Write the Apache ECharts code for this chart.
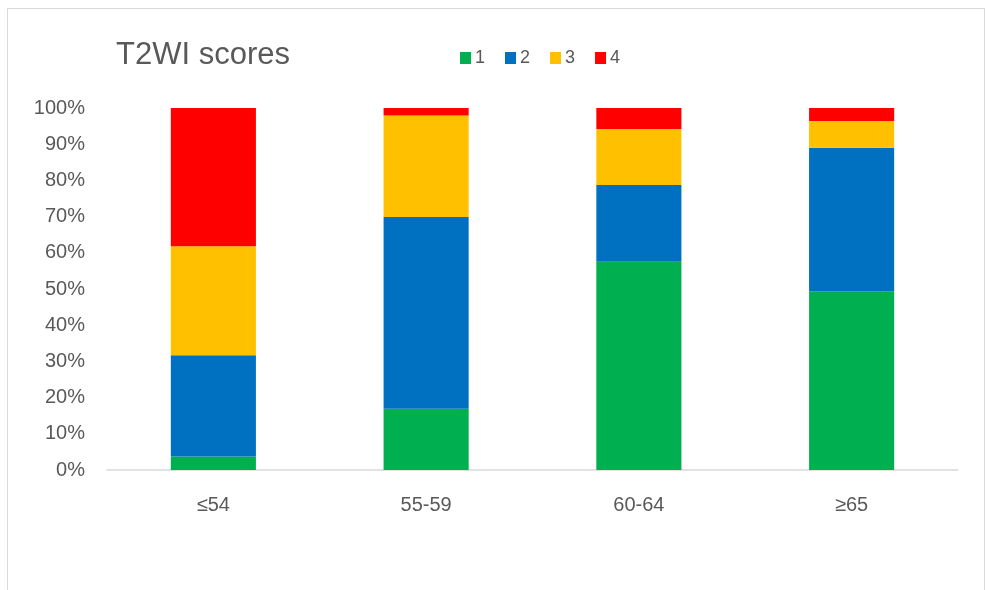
<!DOCTYPE html>
<html>
<head>
<meta charset="utf-8">
<script src="https://cdn.jsdelivr.net/npm/echarts@6/dist/echarts.min.js"></script>
<style>html,body{margin:0;padding:0;background:#fff}#c{width:987px;height:590px}</style>
</head>
<body>
<div id="c"></div>
<script>
var categories = ['≤54', '55-59', '60-64', '≥65'];
var seriesNames = ['1', '2', '3', '4'];
var score1 = [3.7, 16.9, 57.5, 49.4];
var score2 = [28.0, 53.0, 21.2, 39.6];
var score3 = [30.1, 28.0, 15.5, 7.4];
var score4 = [38.2, 2.1, 5.8, 3.6];
var yTicks = [0, 10, 20, 30, 40, 50, 60, 70, 80, 90, 100];
var colors = ['#00B050', '#0070C0', '#FFC000', '#FF0000'];
var seriesData = [score1, score2, score3, score4];

var font = 'Liberation Sans';
var chart = echarts.init(document.getElementById('c'));
chart.setOption({
  animation: false,
  textStyle: {fontFamily: font},
  graphic: [{
    type: 'rect', shape: {x: 7.5, y: 8.5, width: 977, height: 620},
    style: {fill: 'none', stroke: '#D9D9D9', lineWidth: 1}, silent: true
  }],
  title: {
    text: 'T2WI scores', left: 111, top: 35,
    textStyle: {fontFamily: font, fontSize: 31, fontWeight: 'normal', color: '#595959'}
  },
  legend: {
    left: 455, top: 44, itemWidth: 11, itemHeight: 12, itemGap: 20,
    icon: 'rect',
    textStyle: {fontFamily: font, fontSize: 18, color: '#595959', padding: [0, 0, 0, -1]},
    data: seriesNames
  },
  grid: {left: 107, right: 29, top: 108, bottom: 120, containLabel: false},
  xAxis: {
    type: 'category', data: categories,
    axisLine: {lineStyle: {color: '#D9D9D9', width: 1.5}},
    axisTick: {show: false},
    axisLabel: {fontFamily: font, fontSize: 20, color: '#595959', margin: 25}
  },
  yAxis: {
    type: 'value', min: 0, max: 100, interval: 10,
    axisLine: {show: false}, axisTick: {show: false},
    splitLine: {show: false},
    axisLabel: {fontFamily: font, fontSize: 20, color: '#595959', margin: 22,
      formatter: function (v) { return yTicks.indexOf(v) >= 0 ? v + '%' : ''; }}
  },
  series: seriesNames.map(function (n, i) {
    return {
      name: n, type: 'bar', stack: 'total', data: seriesData[i],
      barWidth: '40%',
      itemStyle: {color: colors[i]}
    };
  })
});
</script>
</body>
</html>
